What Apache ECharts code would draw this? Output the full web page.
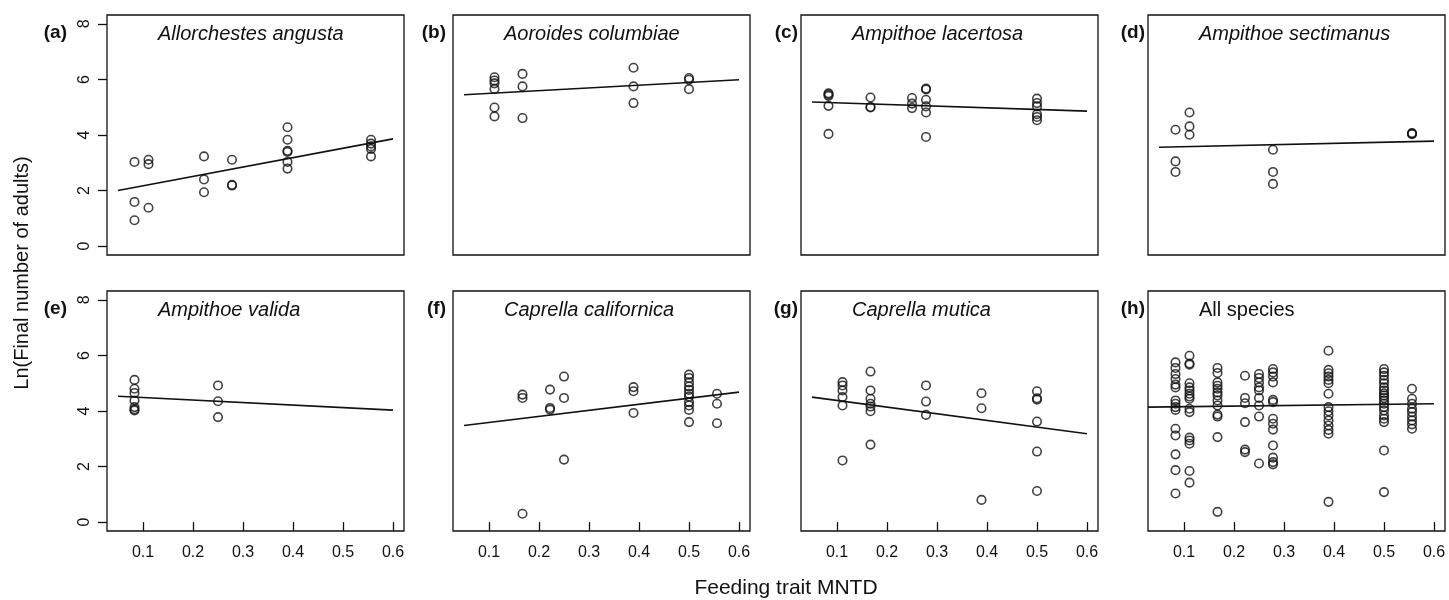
<!DOCTYPE html>
<html>
<head>
<meta charset="utf-8">
<title>Feeding trait MNTD</title>
<script src="https://cdn.jsdelivr.net/npm/echarts@6/dist/echarts.min.js"></script>
<style>
  html, body { margin: 0; padding: 0; background: #fff; }
  #chart { width: 1449px; height: 600px; }
</style>
</head>
<body>
<div id="chart"></div>
<script>
// tick labels
const xTicks = [0.1, 0.2, 0.3, 0.4, 0.5, 0.6]
const yTicks = [0, 2, 4, 6, 8]

const panelTags = ['(a)', '(b)', '(c)', '(d)', '(e)', '(f)', '(g)', '(h)']
const panelNames = ['Allorchestes angusta', 'Aoroides columbiae', 'Ampithoe lacertosa', 'Ampithoe sectimanus',
  'Ampithoe valida', 'Caprella californica', 'Caprella mutica', 'All species']

// points [MNTD, ln(adults)]
const ptsA = [[0.083,3.03],[0.083,1.59],[0.083,0.93],
  [0.111,3.11],[0.111,2.95],[0.111,1.38],
  [0.222,3.23],[0.222,2.40],[0.222,1.94],
  [0.278,3.11],[0.278,2.21],[0.278,2.18],
  [0.389,4.28],[0.389,3.83],[0.389,3.43],[0.389,3.39],[0.389,3.03],[0.389,2.79],
  [0.556,3.83],[0.556,3.69],[0.556,3.59],[0.556,3.50],[0.556,3.23]]
const ptsB = [[0.111,6.08],[0.111,5.96],[0.111,5.86],[0.111,5.66],[0.111,4.99],[0.111,4.67],
  [0.167,6.20],[0.167,5.75],[0.167,4.61],
  [0.389,6.42],[0.389,5.75],[0.389,5.15],
  [0.5,6.05],[0.5,5.99],[0.5,5.65]]
const ptsC = [[0.083,5.50],[0.083,5.46],[0.083,5.41],[0.083,5.05],[0.083,4.04],
  [0.167,5.35],[0.167,5.01],[0.167,4.99],
  [0.25,5.33],[0.25,5.13],[0.25,4.97],
  [0.278,5.67],[0.278,5.64],[0.278,5.27],[0.278,5.03],[0.278,4.81],[0.278,3.93],
  [0.5,5.31],[0.5,5.15],[0.5,5.03],[0.5,4.75],[0.5,4.65],[0.5,4.53]]
const ptsD = [[0.083,4.19],[0.083,3.05],[0.083,2.67],
  [0.111,4.81],[0.111,4.31],[0.111,4.01],
  [0.278,3.47],[0.278,2.67],[0.278,2.24],
  [0.556,4.07],[0.556,4.05],[0.556,4.03]]
const ptsE = [[0.083,5.12],[0.083,4.80],[0.083,4.65],[0.083,4.38],[0.083,4.14],[0.083,4.06],[0.083,4.02],
  [0.25,4.92],[0.25,4.35],[0.25,3.78]]
const ptsF = [[0.167,4.59],[0.167,4.47],[0.167,0.30],
  [0.222,4.77],[0.222,4.11],[0.222,4.05],
  [0.25,5.24],[0.25,4.47],[0.25,2.25],
  [0.389,4.86],[0.389,4.71],[0.389,3.93],
  [0.5,5.31],[0.5,5.19],[0.5,5.03],[0.5,4.88],[0.5,4.76],[0.5,4.62],[0.5,4.52],[0.5,4.32],[0.5,4.20],[0.5,4.04],[0.5,3.60],
  [0.556,4.62],[0.556,4.26],[0.556,3.56]]
const ptsG = [[0.111,5.04],[0.111,4.92],[0.111,4.74],[0.111,4.50],[0.111,4.20],[0.111,2.22],
  [0.167,5.42],[0.167,4.74],[0.167,4.44],[0.167,4.26],[0.167,4.16],[0.167,3.99],[0.167,2.79],
  [0.278,4.92],[0.278,4.34],[0.278,3.86],
  [0.389,4.64],[0.389,4.10],[0.389,0.80],
  [0.5,4.71],[0.5,4.46],[0.5,4.41],[0.5,3.62],[0.5,2.54],[0.5,1.12]]
const ptsH = [[0.083,5.75],[0.083,5.55],[0.083,5.33],[0.083,5.15],[0.083,4.95],[0.083,4.85],[0.083,4.38],
  [0.083,4.26],[0.083,4.14],[0.083,4.04],[0.083,3.36],[0.083,3.12],[0.083,2.44],[0.083,1.87],[0.083,1.03],
  [0.111,5.99],[0.111,5.71],[0.111,5.67],[0.111,5.00],[0.111,4.85],[0.111,4.74],[0.111,4.62],[0.111,4.52],
  [0.111,4.44],[0.111,4.08],[0.111,3.96],[0.111,3.04],[0.111,2.94],[0.111,2.82],[0.111,1.84],[0.111,1.42],
  [0.167,5.55],[0.167,5.37],[0.167,5.03],[0.167,4.91],[0.167,4.80],[0.167,4.67],[0.167,4.56],[0.167,4.38],
  [0.167,4.20],[0.167,3.87],[0.167,3.80],[0.167,3.06],[0.167,0.37],
  [0.222,5.27],[0.222,4.47],[0.222,4.28],[0.222,3.60],[0.222,2.61],[0.222,2.52],
  [0.25,5.33],[0.25,5.19],[0.25,5.03],[0.25,4.85],[0.25,4.74],[0.25,4.47],[0.25,4.20],[0.25,3.80],[0.25,2.11],
  [0.278,5.51],[0.278,5.39],[0.278,5.24],[0.278,5.03],[0.278,4.40],[0.278,4.32],[0.278,3.72],[0.278,3.54],
  [0.278,3.33],[0.278,2.76],[0.278,2.32],[0.278,2.16],[0.278,2.08],
  [0.389,6.17],[0.389,5.48],[0.389,5.36],[0.389,5.24],[0.389,5.12],[0.389,5.00],[0.389,4.62],[0.389,4.14],
  [0.389,3.99],[0.389,3.84],[0.389,3.66],[0.389,3.48],[0.389,3.32],[0.389,3.18],[0.389,0.73],
  [0.5,5.51],[0.5,5.39],[0.5,5.27],[0.5,5.12],[0.5,5.00],[0.5,4.85],[0.5,4.74],[0.5,4.64],[0.5,4.56],
  [0.5,4.47],[0.5,4.38],[0.5,4.26],[0.5,4.14],[0.5,4.02],[0.5,3.84],[0.5,3.72],[0.5,3.60],[0.5,2.58],[0.5,1.08],
  [0.556,4.80],[0.556,4.44],[0.556,4.26],[0.556,4.08],[0.556,3.96],[0.556,3.80],[0.556,3.66],[0.556,3.52],[0.556,3.36]]

// fitted lines, end points
const fitA = [[0.05,2.00],[0.6,3.86]]
const fitB = [[0.05,5.45],[0.6,5.99]]
const fitC = [[0.05,5.19],[0.6,4.86]]
const fitD = [[0.05,3.56],[0.6,3.78]]
const fitE = [[0.05,4.53],[0.6,4.03]]
const fitF = [[0.05,3.48],[0.6,4.68]]
const fitG = [[0.05,4.50],[0.6,3.18]]
const fitH = [[0.028,4.14],[0.6,4.26]]

const points = [ptsA, ptsB, ptsC, ptsD, ptsE, ptsF, ptsG, ptsH]
const fits = [fitA, fitB, fitC, fitD, fitE, fitF, fitG, fitH]

const ink = '#111'
const font = '"Liberation Sans", Arial, Helvetica, sans-serif'
const boxLeft = [107, 453, 801, 1148]
const boxTop = [15, 291]
const boxW = 297
const boxH = 240
const tagRight = [67, 446, 798, 1145]

const grid = [], xAxis = [], yAxis = [], series = [], graphic = []

for (let i = 0; i < 8; i++) {
  const col = i % 4
  const row = Math.floor(i / 4)
  grid.push({
    left: boxLeft[col], top: boxTop[row], width: boxW, height: boxH,
    show: true, borderColor: ink, borderWidth: 1.3, backgroundColor: 'transparent'
  })
  xAxis.push({
    gridIndex: i, type: 'value', min: 0.028, max: 0.622,
    splitLine: { show: false }, axisLine: { show: false },
    axisTick: { show: row === 1, customValues: xTicks, length: 9, lineStyle: { color: ink, width: 1.3 } },
    axisLabel: { show: row === 1, customValues: xTicks, margin: 14, fontSize: 16, color: ink, fontFamily: font,
      formatter: v => v.toFixed(1) }
  })
  yAxis.push({
    gridIndex: i, type: 'value', min: -0.32, max: 8.32,
    splitLine: { show: false }, axisLine: { show: false },
    axisTick: { show: col === 0, customValues: yTicks, length: 9, lineStyle: { color: ink, width: 1.3 } },
    axisLabel: { show: col === 0, customValues: yTicks, rotate: 90, margin: 14, fontSize: 16, color: ink, fontFamily: font }
  })
  series.push({
    type: 'scatter', xAxisIndex: i, yAxisIndex: i, data: points[i],
    symbol: 'circle', symbolSize: 8.5,
    itemStyle: { color: 'rgba(0,0,0,0)', borderColor: ink, borderWidth: 1.6 },
    emphasis: { disabled: true }
  })
  series.push({
    type: 'line', xAxisIndex: i, yAxisIndex: i, data: fits[i],
    showSymbol: false, lineStyle: { color: ink, width: 1.6 }, emphasis: { disabled: true }
  })
  graphic.push({
    type: 'text', x: tagRight[col], y: boxTop[row] + 18,
    style: { text: panelTags[i], font: 'bold 19px ' + font, fill: ink, textAlign: 'right', textVerticalAlign: 'middle' }
  })
  graphic.push({
    type: 'text', x: boxLeft[col] + 51, y: boxTop[row] + 19,
    style: { text: panelNames[i], font: (i === 7 ? '' : 'italic ') + '20px ' + font, fill: ink,
      textAlign: 'left', textVerticalAlign: 'middle' }
  })
}

graphic.push({
  type: 'text', x: 22, y: 273, rotation: Math.PI / 2,
  style: { text: 'Ln(Final number of adults)', font: '20px ' + font, fill: ink, textAlign: 'center', textVerticalAlign: 'middle' }
})
graphic.push({
  type: 'text', x: 786, y: 588,
  style: { text: 'Feeding trait MNTD', font: '21px ' + font, fill: ink, textAlign: 'center', textVerticalAlign: 'middle' }
})

const chart = echarts.init(document.getElementById('chart'))
chart.setOption({
  animation: false,
  backgroundColor: '#fff',
  grid, xAxis, yAxis, series, graphic
})
</script>
</body>
</html>
